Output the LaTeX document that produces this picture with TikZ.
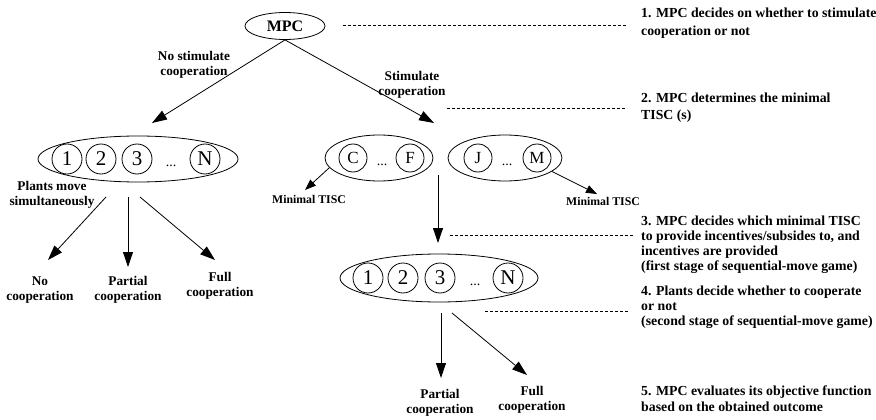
\documentclass[tikz,border=0pt]{standalone}
\usepackage{fontspec}
\setmainfont{Liberation Serif}
\usetikzlibrary{shapes.geometric,arrows.meta}

\tikzset{
  lbl/.style={font=\fontsize{13.3}{15.5}\selectfont\bfseries, align=center, inner sep=0pt},
  small lbl/.style={font=\fontsize{11.8}{14}\selectfont\bfseries, inner sep=0pt},
  note/.style={font=\fontsize{13.8}{#1}\selectfont\bfseries, align=left, inner sep=0pt, anchor=north west},
  group/.style={ellipse, draw, line width=0.8pt, inner sep=0pt},
  plant/.style={circle, draw, line width=0.8pt, minimum size=30pt, inner sep=0pt, font=\fontsize{21}{21}\selectfont},
  tisc/.style={circle, draw, line width=0.8pt, minimum size=28pt, inner sep=0pt, font=\fontsize{17}{17}\selectfont},
  dots/.style={font=\fontsize{14}{14}\selectfont, inner sep=0pt, anchor=base},
  arr/.style={line width=0.8pt, -{Triangle[length=15pt,width=10pt]}},
  sarr/.style={line width=0.8pt, -{Triangle[length=11pt,width=8pt]}},
  guide/.style={line width=0.6pt, dash pattern=on 3pt off 2pt},
}

\begin{document}
\begin{tikzpicture}[x=1pt,y=-1pt]
\useasboundingbox (0,0) rectangle (876,420);

% decision maker
\node[group, minimum width=80pt, minimum height=27pt, font=\fontsize{16}{16}\selectfont\bfseries] (mpc) at (285,26) {MPC};

% all plants, simultaneous moves
\node[group, minimum width=200pt, minimum height=46pt] (all) at (138,159) {};
\node[plant] (a1) at (67,159) {1};
\node[plant] (a2) at (101,159) {2};
\node[plant] (a3) at (137,159) {3};
\node[dots] (adots) at (171,166) {...};
\node[plant] (aN) at (205,159) {N};

% minimal TISC groups
\node[group, minimum width=108pt, minimum height=46pt] (cf) at (379,158) {};
\node[tisc] (c) at (353,158) {C};
\node[dots] (cfdots) at (382,165) {...};
\node[tisc] (f) at (410,158) {F};

\node[group, minimum width=114pt, minimum height=46pt] (jm) at (505,158) {};
\node[tisc] (j) at (478,158) {J};
\node[dots] (jmdots) at (507,165) {...};
\node[tisc] (m) at (537,158) {M};

% all plants, sequential moves
\node[group, minimum width=198pt, minimum height=48pt] (seq) at (439,278) {};
\node[plant] (b1) at (368,278) {1};
\node[plant] (b2) at (403,278) {2};
\node[plant] (b3) at (440,278) {3};
\node[dots] (bdots) at (475,285) {...};
\node[plant] (bN) at (508,278) {N};

% branch and outcome labels
\node[lbl] (nostim) at (194,65) {No stimulate\\cooperation};
\node[lbl] (stim) at (412,85) {Stimulate\\cooperation};
\node[lbl] (plantsim) at (52,195) {Plants move\\simultaneously};
\node[small lbl] (minL) at (309,199) {Minimal TISC};
\node[small lbl] (minR) at (603,201) {Minimal TISC};
\node[lbl] (noco) at (40,290) {No\\cooperation};
\node[lbl] (parL) at (128,290) {Partial\\cooperation};
\node[lbl] (fullL) at (220,286) {Full\\cooperation};
\node[lbl] (parB) at (440,403) {Partial\\cooperation};
\node[lbl] (fullB) at (532,400) {Full\\cooperation};

% stage descriptions
\node[note=17.5] (s1) at (641,8) {1. MPC decides on whether to stimulate\\cooperation or not};
\node[note=16.5] (s2) at (641,93) {2. MPC determines the minimal\\TISC (s)};
\node[note=15] (s3) at (641,216) {3. MPC decides which minimal TISC\\to provide incentives/subsides to, and\\incentives are provided\\(first stage of sequential-move game)};
\node[note=15] (s4) at (641,286) {4. Plants decide whether to cooperate\\or not\\(second stage of sequential-move game)};
\node[note=15.5] (s5) at (641,386) {5. MPC evaluates its objective function\\based on the obtained outcome};

% arrow ends
\coordinate (tNo) at (152,123);
\coordinate (tSt) at (434,123);
\coordinate (oL1) at (106,197);
\coordinate (oL2) at (128,197);
\coordinate (oL3) at (140,197);
\coordinate (tL1) at (48,260);
\coordinate (tL2) at (128,267);
\coordinate (tL3) at (215,260);
\coordinate (tMinL) at (305,190);
\coordinate (tMinR) at (597,194);
\coordinate (oDown) at (438,175);
\coordinate (tDown) at (438,243);
\coordinate (oB1) at (441,313);
\coordinate (oB2) at (452,313);
\coordinate (tB1) at (441,378);
\coordinate (tB2) at (527,375);

\draw[arr] (mpc.south) -- (tNo);
\draw[arr] (mpc.south) -- (tSt);
\draw[arr] (oL1) -- (tL1);
\draw[arr] (oL2) -- (tL2);
\draw[arr] (oL3) -- (tL3);
\draw[sarr] (cf.191) -- (tMinL);
\draw[sarr] (jm.344) -- (tMinR);
\draw[arr] (oDown) -- (tDown);
\draw[arr] (oB1) -- (tB1);
\draw[arr] (oB2) -- (tB2);

% stage guide lines
\coordinate (g1a) at (343,25);  \coordinate (g1b) at (627,25);
\coordinate (g2a) at (447,108); \coordinate (g2b) at (627,108);
\coordinate (g3a) at (450,235); \coordinate (g3b) at (633,235);
\coordinate (g4a) at (485,311); \coordinate (g4b) at (628,311);
\draw[guide] (g1a) -- (g1b);
\draw[guide] (g2a) -- (g2b);
\draw[guide] (g3a) -- (g3b);
\draw[guide] (g4a) -- (g4b);
\end{tikzpicture}
\end{document}
